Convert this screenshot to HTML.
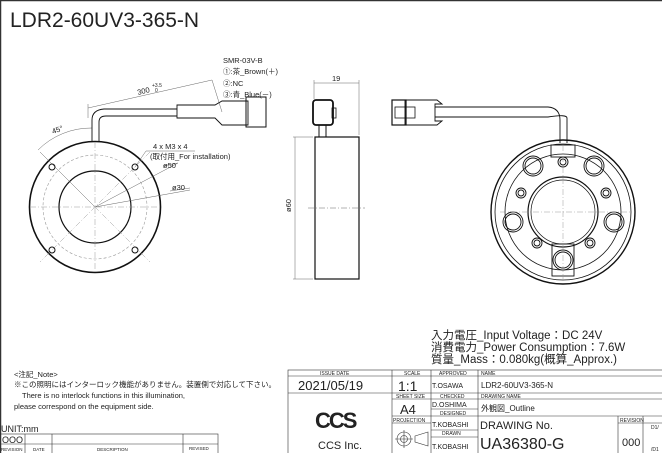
<!DOCTYPE html>
<html><head><meta charset="utf-8"><style>
body{margin:0;background:#fff;}
svg{display:block;font-family:"Liberation Sans","Noto Sans CJK JP",sans-serif;}
.t{fill:#222}
</style></head><body>
<svg width="662" height="453" viewBox="0 0 662 453" xmlns="http://www.w3.org/2000/svg">
<rect x="0.5" y="0.5" width="670" height="460" fill="none" stroke="#333" stroke-width="1.5"/>
<text x="10" y="27" font-size="21" class="t">LDR2-60UV3-365-N</text>

<!-- FRONT VIEW -->
<g stroke="#111" fill="none">
<circle cx="95" cy="207" r="65.5" stroke-width="1.6"/>
<circle cx="95" cy="207" r="36" stroke-width="1.2"/>
<circle cx="95" cy="207" r="52" stroke="#999" stroke-width="0.6" stroke-dasharray="3,2"/>
<g stroke="#999" stroke-width="0.5" stroke-dasharray="6,2,1,2">
<line x1="40" y1="152" x2="150" y2="262"/><line x1="150" y1="152" x2="40" y2="262"/>
<line x1="95" y1="142" x2="95" y2="272"/><line x1="30" y1="207" x2="160" y2="207"/>
</g>
<g stroke="#666" stroke-width="0.5">
<line x1="95" y1="207" x2="178" y2="163"/><line x1="95" y1="207" x2="190" y2="190"/>
<line x1="95" y1="207" x2="40" y2="152"/>
<line x1="163" y1="166" x2="178" y2="163"/><line x1="170" y1="191" x2="190" y2="188"/>
<line x1="135" y1="167" x2="146" y2="151"/><line x1="146" y1="151" x2="195" y2="151"/>
<path d="M38 150 A75 75 0 0 1 92 128"/>
<line x1="88" y1="104" x2="88" y2="118"/><line x1="88" y1="108" x2="212" y2="80"/>
<line x1="212" y1="80" x2="222" y2="112"/>
</g>
<g stroke-width="1">
<circle cx="52" cy="167" r="3"/><circle cx="135" cy="167" r="3"/><circle cx="52" cy="250" r="3"/><circle cx="135" cy="250" r="3"/>
</g>
<path d="M92 141 V120 Q92 110 104 109 H177 M99 141 V122 Q99 116 106 116 H177" stroke-width="0.9"/>
<path d="M177 105 H215 L222 101 H248 V125 H222 L215 118 H177 Z" stroke-width="0.9"/>
<rect x="246" y="97" width="20" height="30" stroke-width="1"/>
</g>
<g font-size="7.5" class="t">
<text x="223" y="63">SMR-03V-B</text>
<text x="223" y="74">①:茶_Brown(＋)</text>
<text x="223" y="86">②:NC</text>
<text x="223" y="97">③:青_Blue(－)</text>
<text x="138" y="95" transform="rotate(-14 138 95)">300</text>
<text x="152" y="87" font-size="5">+3.5</text>
<text x="155" y="92" font-size="5">0</text>
<text x="53" y="134" transform="rotate(-20 53 134)">45°</text>
<text x="153" y="149">4 x M3 x 4</text>
<text x="150" y="159">(取付用_For installation)</text>
<text x="163" y="168">ø50</text>
<text x="172" y="190">ø30</text>
</g>

<!-- SIDE VIEW -->
<g stroke="#111" fill="none">
<rect x="315" y="137" width="44" height="142" stroke-width="1.2"/>
<rect x="313" y="100" width="20" height="25" rx="3" stroke-width="1.8"/>
<rect x="332" y="108" width="4" height="10" stroke-width="0.8"/>
<line x1="319" y1="125" x2="319" y2="137"/><line x1="326" y1="125" x2="326" y2="137"/>
<g stroke="#666" stroke-width="0.5">
<line x1="293" y1="137" x2="313" y2="137"/><line x1="293" y1="279" x2="313" y2="279"/>
<line x1="295" y1="137" x2="295" y2="279"/>
<line x1="314" y1="80" x2="314" y2="99"/><line x1="359" y1="80" x2="359" y2="135"/>
<line x1="314" y1="83" x2="359" y2="83"/>
<line x1="308" y1="208" x2="365" y2="208" stroke-dasharray="6,2,1,2"/>
</g>
</g>
<text x="332" y="81" font-size="7.5" class="t">19</text>
<text x="291" y="212" font-size="7.5" class="t" transform="rotate(-90 291 212)">ø60</text>

<!-- BACK VIEW -->
<g stroke="#111" fill="none">
<circle cx="563" cy="212" r="72" stroke-width="1.4"/>
<circle cx="563" cy="212" r="68" stroke-width="0.8"/>
<circle cx="563" cy="212" r="58" stroke-width="0.8"/>
<circle cx="563" cy="212" r="35" stroke-width="1.2"/>
<circle cx="563" cy="212" r="32" stroke-width="0.7"/>
<g stroke-width="0.9">
<circle cx="533" cy="166" r="8"/><circle cx="533" cy="166" r="10"/>
<circle cx="594" cy="166" r="8"/><circle cx="594" cy="166" r="10"/>
<circle cx="513" cy="222" r="8"/><circle cx="513" cy="222" r="10"/>
<circle cx="614" cy="222" r="8"/><circle cx="614" cy="222" r="10"/>
<circle cx="563" cy="260" r="8"/><circle cx="563" cy="260" r="10"/>
<circle cx="563" cy="162" r="3"/><circle cx="563" cy="162" r="5"/>
<circle cx="521" cy="193" r="3"/><circle cx="521" cy="193" r="5"/>
<circle cx="606" cy="193" r="3"/><circle cx="606" cy="193" r="5"/>
<circle cx="537" cy="243" r="3"/><circle cx="537" cy="243" r="5"/>
<circle cx="590" cy="243" r="3"/><circle cx="590" cy="243" r="5"/>
<rect x="551" y="145" width="24" height="12"/>
<rect x="552" y="244" width="22" height="32"/>
</g>
<g stroke="#999" stroke-width="0.5" stroke-dasharray="6,2,1,2">
<line x1="563" y1="145" x2="563" y2="280"/><line x1="500" y1="212" x2="630" y2="212"/>
</g>
<path d="M560 143 V120 Q560 108 548 107 H435 M567 143 V118 Q567 114 548 117 H435" stroke-width="0.9"/>
<path d="M435 104 H442 L437 100 H405 V125 H437 L442 121 H435 Z" stroke-width="0.9"/>
<rect x="392" y="100" width="14" height="25" stroke-width="1.2"/>
<rect x="395" y="107" width="20" height="11" stroke-width="0.8"/>
</g>

<!-- SPEC -->
<g font-size="11.5" class="t">
<text x="431" y="339">入力電圧_Input Voltage：DC 24V</text>
<text x="431" y="351">消費電力_Power Consumption：7.6W</text>
<text x="431" y="363">質量_Mass：0.080kg(概算_Approx.)</text>
</g>

<!-- NOTE -->
<g font-size="7.5" class="t">
<text x="14" y="377">&lt;注記_Note&gt;</text>
<text x="14" y="387">※この照明にはインターロック機能がありません。装置側で対応して下さい。</text>
<text x="22" y="398">There is no interlock functions in this illumination,</text>
<text x="14" y="409">please correspond on the equipment side.</text>
</g>
<text x="1" y="432" font-size="9" class="t">UNIT:mm</text>
<g stroke="#333" stroke-width="0.6" fill="none">
<rect x="0" y="434" width="218" height="20"/>
<line x1="0" y1="444" x2="218" y2="444"/>
<line x1="25" y1="434" x2="25" y2="453"/><line x1="52" y1="434" x2="52" y2="453"/><line x1="183" y1="434" x2="183" y2="453"/>
</g>
<text x="2" y="443" font-size="9" class="t">OOO</text>
<g font-size="4.5" class="t"><text x="1" y="451">REVISION</text><text x="33" y="451">DATE</text><text x="97" y="451">DESCRIPTION</text><text x="189" y="450">REVISED</text></g>

<!-- TITLE BLOCK -->
<g stroke="#333" stroke-width="0.6" fill="none">
<rect x="288" y="370" width="380" height="90"/>
<line x1="288" y1="376" x2="662" y2="376"/>
<line x1="288" y1="393" x2="662" y2="393"/>
<line x1="392" y1="370" x2="392" y2="453"/>
<line x1="431" y1="370" x2="431" y2="453"/>
<line x1="478" y1="370" x2="478" y2="453"/>
<line x1="392" y1="399" x2="662" y2="399"/>
<line x1="431" y1="409" x2="478" y2="409"/>
<line x1="392" y1="416" x2="662" y2="416"/>
<line x1="392" y1="423" x2="431" y2="423"/>
<line x1="431" y1="430" x2="478" y2="430"/>
<line x1="431" y1="437" x2="478" y2="437"/>
<line x1="618" y1="416" x2="618" y2="453"/>
<line x1="643" y1="416" x2="643" y2="453"/>
<line x1="618" y1="423" x2="662" y2="423"/>
<circle cx="404" cy="439" r="7"/><circle cx="404" cy="439" r="3.5"/>
<line x1="395" y1="439" x2="413" y2="439"/><line x1="404" y1="430" x2="404" y2="448"/>
<path d="M415 436 L428 432 V446 L415 442 Z"/>
</g>
<g font-size="5" class="t">
<text x="320" y="375">ISSUE DATE</text><text x="404" y="375">SCALE</text><text x="439" y="375">APPROVED</text><text x="481" y="375">NAME</text>
<text x="396" y="398">SHEET SIZE</text><text x="440" y="398">CHECKED</text><text x="481" y="398">DRAWING NAME</text>
<text x="440" y="415">DESIGNED</text><text x="393" y="422">PROJECTION</text><text x="442" y="435">DRAWN</text>
<text x="620" y="422">REVISION</text><text x="651" y="429">D1/</text><text x="651" y="451">/D1</text>
</g>
<g class="t">
<text x="298" y="390" font-size="13">2021/05/19</text>
<text x="398" y="391" font-size="14">1:1</text>
<text x="400" y="414" font-size="13">A4</text>
<text x="432" y="388" font-size="7">T.OSAWA</text>
<text x="432" y="407" font-size="7">D.OSHIMA</text>
<text x="432" y="427" font-size="7">T.KOBASHI</text>
<text x="432" y="449" font-size="7">T.KOBASHI</text>
<text x="481" y="388" font-size="8">LDR2-60UV3-365-N</text>
<text x="481" y="411" font-size="8">外観図_Outline</text>
<text x="480" y="429" font-size="11">DRAWING No.</text>
<text x="480" y="449" font-size="16">UA36380-G</text>
<text x="622" y="446" font-size="11">000</text>
<text x="318" y="449" font-size="11">CCS Inc.</text>
<text x="315" y="428" font-size="22" font-weight="bold" font-family="Liberation Sans,sans-serif" letter-spacing="-2">CCS</text>
</g>
</svg>
</body></html>
